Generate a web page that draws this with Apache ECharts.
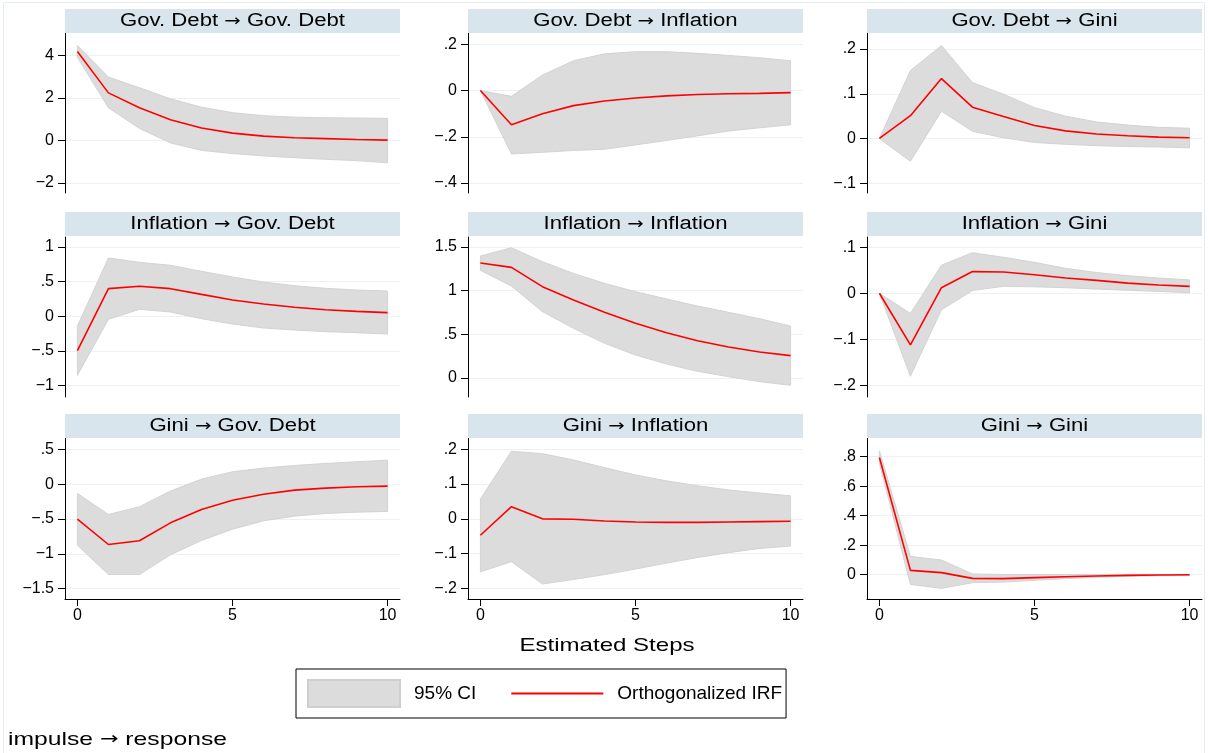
<!DOCTYPE html>
<html>
<head>
<meta charset="utf-8">
<script src="https://cdn.jsdelivr.net/npm/echarts@6/dist/echarts.min.js"></script>
<style>html,body{margin:0;padding:0;background:#fff}#c{width:1208px;height:753px}</style>
</head>
<body>
<div id="c"></div>
<script>
// ---------- data ----------
const steps = [0, 1, 2, 3, 4, 5, 6, 7, 8, 9, 10];
const xTicks = [0, 5, 10];

const impulses = ["Gov. Debt", "Gov. Debt", "Gov. Debt", "Inflation", "Inflation", "Inflation", "Gini", "Gini", "Gini"];
const responses = ["Gov. Debt", "Inflation", "Gini", "Gov. Debt", "Inflation", "Gini", "Gov. Debt", "Inflation", "Gini"];

// Orthogonalized IRF
const irfGdGd   = [4.17, 2.23, 1.53, 0.97, 0.58, 0.34, 0.20, 0.12, 0.08, 0.04, 0.01];
const irfGdInf  = [0, -0.148, -0.100, -0.065, -0.045, -0.032, -0.023, -0.017, -0.014, -0.012, -0.009];
const irfGdGini = [0, 0.051, 0.134, 0.070, 0.049, 0.029, 0.017, 0.010, 0.006, 0.003, 0.0015];
const irfInfGd  = [-0.495, 0.399, 0.433, 0.399, 0.317, 0.236, 0.178, 0.130, 0.096, 0.072, 0.053];
const irfInfInf = [1.317, 1.267, 1.046, 0.893, 0.752, 0.626, 0.519, 0.427, 0.355, 0.298, 0.256];
const irfInfGini= [0, -0.112, 0.012, 0.047, 0.046, 0.040, 0.033, 0.028, 0.022, 0.018, 0.015];
const irfGiniGd = [-0.502, -0.866, -0.813, -0.555, -0.364, -0.230, -0.144, -0.086, -0.057, -0.038, -0.029];
const irfGiniInf= [-0.047, 0.035, 0.000, -0.001, -0.006, -0.009, -0.010, -0.010, -0.009, -0.008, -0.007];
const irfGiniGini=[0.795, 0.029, 0.014, -0.025, -0.027, -0.020, -0.014, -0.009, -0.005, -0.002, -0.001];

// 95% CI lower bounds
const loGdGd   = [3.90, 1.53, 0.56, -0.12, -0.47, -0.62, -0.73, -0.81, -0.89, -0.95, -1.05];
const loGdInf  = [0, -0.274, -0.267, -0.259, -0.254, -0.235, -0.216, -0.196, -0.175, -0.161, -0.148];
const loGdGini = [0, -0.051, 0.061, 0.016, 0.0015, -0.009, -0.013, -0.016, -0.018, -0.019, -0.021];
const loInfGd  = [-0.851, -0.043, 0.101, 0.063, -0.034, -0.111, -0.168, -0.197, -0.221, -0.236, -0.255];
const loInfInf = [1.233, 1.053, 0.760, 0.569, 0.397, 0.263, 0.160, 0.076, 0.015, -0.042, -0.084];
const loInfGini= [0, -0.180, -0.036, 0.006, 0.015, 0.014, 0.012, 0.009, 0.0065, 0.004, 0.001];
const loGiniGd = [-0.876, -1.297, -1.297, -1.014, -0.809, -0.646, -0.526, -0.459, -0.421, -0.402, -0.392];
const loGiniInf= [-0.152, -0.123, -0.187, -0.174, -0.160, -0.144, -0.127, -0.111, -0.097, -0.085, -0.078];
const loGiniGini=[0.755, -0.066, -0.093, -0.054, -0.050, -0.038, -0.027, -0.018, -0.011, -0.007, -0.005];

// 95% CI upper bounds
const upGdGd   = [4.45, 2.97, 2.47, 1.95, 1.56, 1.30, 1.16, 1.09, 1.06, 1.05, 1.03];
const upGdInf  = [0, -0.025, 0.067, 0.129, 0.159, 0.168, 0.168, 0.161, 0.152, 0.142, 0.129];
const upGdGini = [0, 0.152, 0.208, 0.125, 0.099, 0.069, 0.050, 0.037, 0.030, 0.025, 0.023];
const upInfGd  = [-0.139, 0.841, 0.779, 0.736, 0.649, 0.567, 0.495, 0.442, 0.404, 0.380, 0.365];
const upInfInf = [1.397, 1.492, 1.332, 1.198, 1.084, 0.989, 0.905, 0.824, 0.752, 0.679, 0.595];
const upInfGini= [0, -0.044, 0.061, 0.088, 0.078, 0.067, 0.054, 0.045, 0.038, 0.033, 0.029];
const upGiniGd = [-0.134, -0.435, -0.325, -0.100, 0.072, 0.177, 0.230, 0.268, 0.297, 0.321, 0.344];
const upGiniInf= [0.057, 0.194, 0.187, 0.169, 0.147, 0.126, 0.109, 0.095, 0.083, 0.074, 0.066];
const upGiniGini=[0.840, 0.124, 0.099, 0.005, 0.001, 0.001, 0.001, 0.001, 0.001, 0.001, 0.001];

// y tick labels and axis ranges
const yTicks = [
  [-2, 0, 2, 4], [-0.4, -0.2, 0, 0.2], [-0.1, 0, 0.1, 0.2],
  [-1, -0.5, 0, 0.5, 1], [0, 0.5, 1, 1.5], [-0.2, -0.1, 0, 0.1],
  [-1.5, -1, -0.5, 0, 0.5], [-0.2, -0.1, 0, 0.1, 0.2], [0, 0.2, 0.4, 0.6, 0.8]
];
const yMin = [-2.47, -0.443, -0.122, -1.163, -0.218, -0.225, -1.648, -0.230, -0.165];
const yMax = [5.04, 0.249, 0.236, 1.144, 1.615, 0.122, 0.662, 0.232, 0.927];
const xMin = -0.4, xMax = 10.4;

const irfs = [irfGdGd, irfGdInf, irfGdGini, irfInfGd, irfInfInf, irfInfGini, irfGiniGd, irfGiniInf, irfGiniGini];
const los  = [loGdGd, loGdInf, loGdGini, loInfGd, loInfInf, loInfGini, loGiniGd, loGiniInf, loGiniGini];
const ups  = [upGdGd, upGdInf, upGdGini, upInfGd, upInfInf, upInfGini, upGiniGd, upGiniInf, upGiniGini];

// ---------- layout ----------
const FONT = '"Liberation Sans", Arial, Helvetica, sans-serif';
const ARROW_FONT = '"DejaVu Sans", sans-serif';
const colLeft = [65, 468, 867];
const plotW = 335;
const titleTop = [9, 212, 414];
const titleH = 24;
const gridTop = [33, 237, 438];
const gridH = [160, 160, 161];

function fmt(v) {
  let s = String(+(+v).toFixed(2));
  s = s.replace(/^(-?)0\./, '$1.');
  return s.replace('-', '\u2212');
}

const grids = [], xAxes = [], yAxes = [], series = [], graphics = [];

// outer faint frame
graphics.push({ type: 'rect', shape: { x: 3.5, y: 2.5, width: 1201, height: 760 },
  style: { fill: null, stroke: '#e6edf1', lineWidth: 1 }, silent: true, z: 0 });

function makeBandRenderer(i) {
  return function (params, api) {
    if (params.dataIndex !== 0) return null;
    const pts = [];
    for (let k = 0; k < steps.length; k++) pts.push(api.coord([steps[k], ups[i][k]]));
    for (let k = steps.length - 1; k >= 0; k--) pts.push(api.coord([steps[k], los[i][k]]));
    return {
      type: 'polygon', shape: { points: pts },
      style: { fill: '#dcdcdc', stroke: '#d3d3d3', lineWidth: 1 }
    };
  };
}

for (let i = 0; i < 9; i++) {
  const r = Math.floor(i / 3), c = i % 3;
  grids.push({ left: colLeft[c], top: gridTop[r], width: plotW, height: gridH[r],
    containLabel: false, outerBoundsMode: 'none' });
  const bottomRow = r === 2;
  xAxes.push({
    gridIndex: i, type: 'value', min: xMin, max: xMax,
    axisLine: { show: bottomRow, onZero: false, lineStyle: { color: '#000', width: 1 } },
    axisTick: { show: bottomRow, customValues: xTicks, length: 7, lineStyle: { color: '#000', width: 1 } },
    axisLabel: { show: bottomRow, customValues: xTicks, fontSize: 16, color: '#000', margin: 9, fontFamily: FONT },
    splitLine: { show: false }
  });
  yAxes.push({
    gridIndex: i, type: 'value', min: yMin[i], max: yMax[i],
    axisLine: { show: true, onZero: false, lineStyle: { color: '#000', width: 1 } },
    axisTick: { show: true, customValues: yTicks[i], length: 7, lineStyle: { color: '#000', width: 1 } },
    axisLabel: { customValues: yTicks[i], formatter: fmt, fontSize: 16, color: '#000', margin: 11, fontFamily: FONT },
    splitLine: { show: true, lineStyle: { color: '#eaf2f3', width: 1 } }
  });

  series.push({
    type: 'custom', name: '95% CI', xAxisIndex: i, yAxisIndex: i,
    data: steps.map((s, k) => [s, los[i][k], ups[i][k]]),
    encode: { x: 0, y: [1, 2] },
    renderItem: makeBandRenderer(i),
    itemStyle: { color: '#dcdcdc' },
    clip: true, silent: true, z: 2
  });
  series.push({
    type: 'line', name: 'Orthogonalized IRF', xAxisIndex: i, yAxisIndex: i,
    data: steps.map((s, k) => [s, irfs[i][k]]),
    symbol: 'none', silent: true, color: '#ff0000',
    lineStyle: { color: '#ff0000', width: 1.6 }, z: 3
  });

  // title band
  graphics.push({ type: 'rect', shape: { x: colLeft[c], y: titleTop[r], width: plotW, height: titleH },
    style: { fill: '#d9e5ec' }, silent: true, z: 1 });
  graphics.push({ type: 'text', x: colLeft[c] + plotW / 2, y: titleTop[r] + titleH / 2 + 0.5, scaleX: 1.23,
    style: {
      text: impulses[i] + ' {a|\u2192} ' + responses[i],
      fontSize: 18, fontFamily: FONT, fill: '#000', align: 'center', verticalAlign: 'middle',
      rich: { a: { fontSize: 16, fontFamily: ARROW_FONT, fill: '#000' } }
    },
    silent: true, z: 2 });
}

graphics.push({ type: 'text', x: 607, y: 646, scaleX: 1.3,
  style: { text: 'Estimated Steps', fontSize: 18.5, fontFamily: FONT, fill: '#000', align: 'center', verticalAlign: 'middle' },
  silent: true });
graphics.push({ type: 'text', x: 8, y: 740, scaleX: 1.3,
  style: { text: 'impulse {a|\u2192} response', fontSize: 19, fontFamily: FONT, fill: '#000', align: 'left', verticalAlign: 'middle',
    rich: { a: { fontSize: 17, fontFamily: ARROW_FONT, fill: '#000' } } },
  silent: true });

const option = {
  animation: false,
  backgroundColor: '#fff',
  textStyle: { fontFamily: FONT },
  grid: grids,
  xAxis: xAxes,
  yAxis: yAxes,
  legend: {
    left: 296, top: 669, orient: 'horizontal',
    padding: [10, 4, 10, 11],
    borderColor: '#000', borderWidth: 1,
    itemWidth: 92, itemHeight: 27, itemGap: 34,
    selectedMode: false,
    textStyle: { fontSize: 19, color: '#000', fontFamily: FONT, padding: [0, 0, 0, 9] },
    data: [
      { name: '95% CI', icon: 'rect', itemStyle: { color: '#dcdcdc', borderColor: '#cfcfcf', borderWidth: 2 } },
      { name: 'Orthogonalized IRF', itemStyle: { color: 'rgba(0,0,0,0)', borderWidth: 0 },
        lineStyle: { color: '#ff0000', width: 2 } }
    ]
  },
  graphic: graphics,
  series: series
};

const chart = echarts.init(document.getElementById('c'), null, { renderer: 'canvas' });
chart.setOption(option);
</script>
</body>
</html>
